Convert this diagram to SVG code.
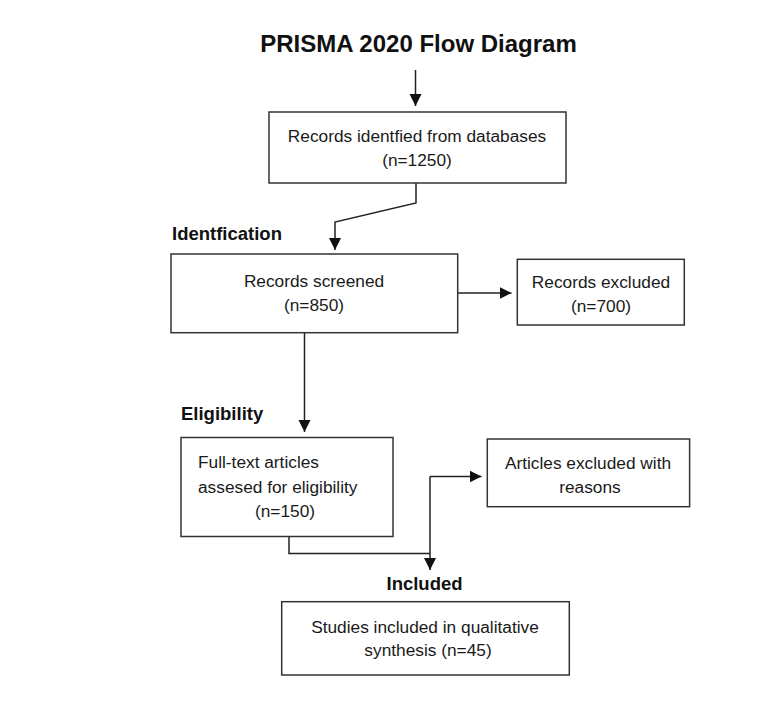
<svg xmlns="http://www.w3.org/2000/svg" width="762" height="713" viewBox="0 0 762 713">
  <style>
    .box { fill: #ffffff; stroke: #333333; stroke-width: 1.5; }
    .txt { font-family: "Liberation Sans", Arial, sans-serif; font-size: 17.3px; fill: #1a1a1a; }
    .mid { text-anchor: middle; }
    .lbl { font-family: "Liberation Sans", Arial, sans-serif; font-size: 18.5px; font-weight: bold; fill: #111111; }
    .title { font-family: "Liberation Sans", Arial, sans-serif; font-size: 24px; font-weight: bold; fill: #111111; text-anchor: middle; }
    .conn { fill: none; stroke: #222222; stroke-width: 1.5; }
  </style>
  <defs>
    <marker id="arr" markerUnits="userSpaceOnUse" markerWidth="13" markerHeight="13" refX="12" refY="6" orient="auto">
      <path d="M0,0 L12,6 L0,12 z" fill="#111111"/>
    </marker>
  </defs>
  <rect width="762" height="713" fill="#ffffff"/>

  <text class="title" x="418.5" y="52">PRISMA 2020 Flow Diagram</text>

  <g id="labels">
    <text class="lbl" x="172" y="240">Identfication</text>
    <text class="lbl" x="181" y="420">Eligibility</text>
    <text class="lbl" x="386.5" y="590">Included</text>
  </g>

  <g id="connectors">
    <path class="conn" d="M415.5,70 L415.5,106" marker-end="url(#arr)"/>
    <path class="conn" d="M416,183 L416,203 L335,222 L335,250" marker-end="url(#arr)"/>
    <path class="conn" d="M457.7,293 L511.5,293" marker-end="url(#arr)"/>
    <path class="conn" d="M304.5,333 L304.5,432" marker-end="url(#arr)"/>
    <path class="conn" d="M289,536.5 L289,553.5 L430,553.5"/>
    <path class="conn" d="M430,476.5 L430,570" marker-end="url(#arr)"/>
    <path class="conn" d="M430,476.5 L481.5,476.5" marker-end="url(#arr)"/>
  </g>

  <g id="node-identified">
    <rect class="box" x="269" y="112" width="297" height="71"/>
    <text class="txt mid" x="417" y="142">Records identfied from databases</text>
    <text class="txt mid" x="417" y="166">(n=1250)</text>
  </g>

  <g id="node-screened">
    <rect class="box" x="171" y="254" width="286.7" height="78.7"/>
    <text class="txt mid" x="314" y="287">Records screened</text>
    <text class="txt mid" x="314" y="311">(n=850)</text>
  </g>

  <g id="node-excluded">
    <rect class="box" x="517.3" y="259.3" width="167" height="65.7"/>
    <text class="txt mid" x="601" y="287.5">Records excluded</text>
    <text class="txt mid" x="601" y="311.5">(n=700)</text>
  </g>

  <g id="node-fulltext">
    <rect class="box" x="181" y="437.5" width="212" height="99"/>
    <text class="txt" x="198" y="468">Full-text articles</text>
    <text class="txt" x="198" y="493">assesed for eligibility</text>
    <text class="txt mid" x="285" y="517">(n=150)</text>
  </g>

  <g id="node-articles-excluded">
    <rect class="box" x="487.3" y="439" width="202.3" height="67.7"/>
    <text class="txt mid" x="588" y="468.5">Articles excluded with</text>
    <text class="txt mid" x="590" y="493">reasons</text>
  </g>

  <g id="node-included">
    <rect class="box" x="281.7" y="601.7" width="287.6" height="73.3"/>
    <text class="txt mid" x="425" y="633">Studies included in qualitative</text>
    <text class="txt mid" x="428" y="656">synthesis (n=45)</text>
  </g>
</svg>
